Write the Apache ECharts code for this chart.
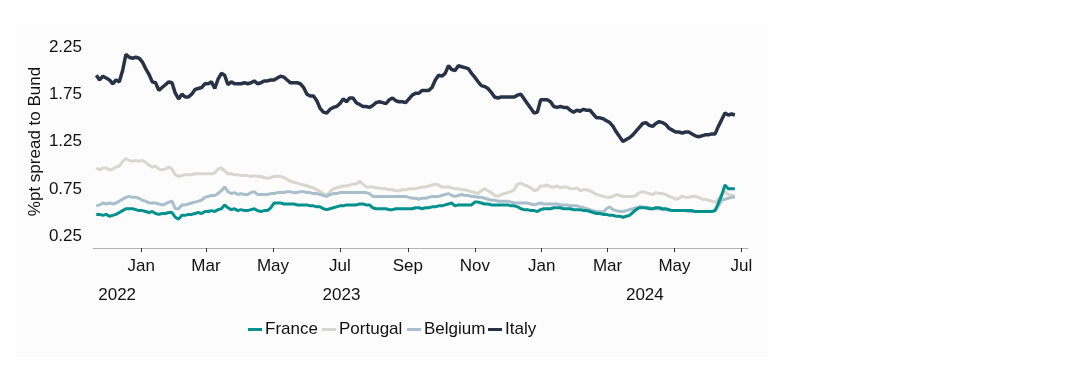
<!DOCTYPE html>
<html>
<head>
<meta charset="utf-8">
<script src="https://cdn.jsdelivr.net/npm/echarts@6/dist/echarts.min.js"></script>
<style>
html,body{margin:0;padding:0;background:#fff;}
#chart{width:1088px;height:380px;}
</style>
</head>
<body>
<div id="chart"></div>
<script>
// ---- Data (spread to Bund, %pt), sampled every 3 days from 2022-11-21 ----
const startDate = '2022-11-21';
const stepDays = 3;

const france = [
0.48,0.48,0.47,0.48,0.46,0.47,0.48,0.50,0.52,0.54,
0.54,0.54,0.53,0.52,0.52,0.51,0.50,0.51,0.49,0.48,
0.49,0.49,0.50,0.50,0.45,0.43,0.47,0.47,0.48,0.48,
0.49,0.50,0.49,0.51,0.51,0.52,0.51,0.53,0.54,0.58,
0.55,0.53,0.54,0.52,0.53,0.52,0.52,0.53,0.54,0.52,
0.51,0.52,0.52,0.55,0.60,0.60,0.60,0.59,0.59,0.59,
0.59,0.58,0.58,0.58,0.58,0.57,0.57,0.56,0.56,0.54,
0.53,0.54,0.55,0.56,0.57,0.57,0.58,0.58,0.58,0.58,
0.59,0.59,0.58,0.58,0.55,0.54,0.54,0.54,0.54,0.53,
0.53,0.54,0.54,0.54,0.54,0.54,0.54,0.55,0.55,0.54,
0.55,0.55,0.56,0.56,0.57,0.57,0.58,0.59,0.60,0.57,
0.58,0.58,0.58,0.58,0.58,0.61,0.61,0.60,0.59,0.59,
0.58,0.58,0.58,0.58,0.58,0.58,0.57,0.57,0.56,0.54,
0.53,0.53,0.52,0.52,0.51,0.53,0.54,0.54,0.54,0.55,
0.55,0.55,0.54,0.54,0.54,0.53,0.53,0.53,0.52,0.52,
0.51,0.50,0.49,0.49,0.48,0.48,0.47,0.47,0.46,0.46,
0.45,0.46,0.47,0.50,0.53,0.55,0.55,0.55,0.54,0.54,
0.55,0.55,0.54,0.54,0.53,0.52,0.52,0.52,0.52,0.52,
0.52,0.52,0.51,0.51,0.51,0.51,0.51,0.51,0.52,0.60,
0.68,0.79,0.75,0.75,0.75
];

const portugal = [
0.97,0.95,0.97,0.97,0.95,0.96,0.98,0.99,1.04,1.07,
1.05,1.04,1.05,1.04,1.05,1.03,1.00,0.98,0.99,0.96,
0.95,0.96,0.98,0.96,0.90,0.88,0.89,0.90,0.90,0.90,
0.91,0.91,0.91,0.91,0.91,0.91,0.92,0.96,0.97,0.94,
0.91,0.91,0.90,0.90,0.89,0.89,0.89,0.88,0.89,0.88,
0.88,0.87,0.86,0.87,0.88,0.88,0.88,0.87,0.85,0.83,
0.82,0.81,0.80,0.79,0.78,0.77,0.76,0.74,0.72,0.70,
0.68,0.72,0.75,0.76,0.77,0.78,0.78,0.79,0.80,0.80,
0.83,0.80,0.77,0.77,0.77,0.76,0.76,0.75,0.75,0.74,
0.74,0.73,0.73,0.74,0.74,0.75,0.75,0.75,0.76,0.77,
0.77,0.78,0.79,0.80,0.79,0.77,0.77,0.77,0.76,0.75,
0.75,0.74,0.74,0.73,0.72,0.71,0.70,0.73,0.75,0.73,
0.71,0.68,0.67,0.69,0.70,0.71,0.72,0.74,0.80,0.81,
0.79,0.78,0.76,0.73,0.74,0.78,0.78,0.79,0.77,0.77,
0.78,0.76,0.77,0.77,0.75,0.75,0.76,0.73,0.74,0.74,
0.73,0.71,0.69,0.68,0.67,0.66,0.66,0.67,0.69,0.68,
0.67,0.67,0.67,0.67,0.68,0.71,0.72,0.71,0.70,0.69,
0.71,0.70,0.70,0.69,0.67,0.66,0.64,0.65,0.67,0.66,
0.66,0.67,0.67,0.66,0.64,0.64,0.63,0.62,0.61,0.64,
0.70,0.72,0.69,0.68,0.68
];

const belgium = [
0.57,0.58,0.60,0.59,0.60,0.59,0.60,0.62,0.64,0.66,
0.67,0.66,0.66,0.65,0.63,0.62,0.60,0.60,0.60,0.59,
0.58,0.59,0.61,0.62,0.54,0.54,0.58,0.58,0.59,0.60,
0.61,0.62,0.63,0.66,0.67,0.68,0.68,0.70,0.73,0.77,
0.72,0.70,0.71,0.69,0.70,0.69,0.69,0.71,0.72,0.69,
0.69,0.69,0.69,0.70,0.70,0.71,0.71,0.71,0.72,0.72,
0.71,0.71,0.72,0.72,0.71,0.71,0.70,0.70,0.69,0.68,
0.67,0.69,0.70,0.70,0.71,0.71,0.71,0.71,0.71,0.71,
0.71,0.71,0.71,0.70,0.67,0.67,0.67,0.67,0.67,0.67,
0.67,0.67,0.67,0.67,0.67,0.66,0.65,0.65,0.64,0.65,
0.65,0.66,0.67,0.67,0.67,0.68,0.69,0.70,0.68,0.67,
0.68,0.69,0.68,0.68,0.67,0.67,0.66,0.66,0.65,0.64,
0.63,0.63,0.62,0.62,0.62,0.62,0.61,0.60,0.60,0.60,
0.60,0.60,0.59,0.58,0.59,0.60,0.59,0.59,0.59,0.59,
0.59,0.58,0.58,0.58,0.57,0.57,0.57,0.56,0.55,0.54,
0.53,0.52,0.51,0.51,0.50,0.54,0.56,0.53,0.52,0.51,
0.51,0.52,0.53,0.54,0.55,0.56,0.56,0.55,0.55,0.54,
0.54,0.54,0.53,0.53,0.52,0.52,0.52,0.52,0.52,0.52,
0.51,0.51,0.51,0.51,0.51,0.51,0.51,0.51,0.52,0.57,
0.63,0.64,0.65,0.66,0.66
];

const italy = [
1.95,1.90,1.94,1.92,1.90,1.86,1.90,1.88,2.00,2.17,
2.14,2.13,2.14,2.13,2.09,2.02,1.96,1.88,1.87,1.79,
1.82,1.85,1.88,1.87,1.76,1.70,1.75,1.72,1.72,1.75,
1.80,1.81,1.82,1.86,1.86,1.88,1.81,1.91,1.97,1.95,
1.85,1.88,1.86,1.86,1.86,1.87,1.86,1.87,1.89,1.86,
1.87,1.89,1.89,1.90,1.90,1.92,1.94,1.93,1.90,1.87,
1.87,1.87,1.86,1.82,1.75,1.73,1.73,1.68,1.60,1.56,
1.55,1.59,1.61,1.62,1.65,1.70,1.67,1.71,1.71,1.66,
1.64,1.62,1.62,1.61,1.63,1.66,1.67,1.66,1.65,1.69,
1.71,1.68,1.67,1.67,1.66,1.70,1.74,1.76,1.76,1.79,
1.79,1.79,1.82,1.90,1.95,1.94,1.97,2.05,2.01,2.00,
2.05,2.04,2.03,2.02,1.97,1.93,1.88,1.84,1.83,1.81,
1.77,1.72,1.71,1.72,1.72,1.72,1.72,1.72,1.74,1.75,
1.70,1.65,1.60,1.55,1.56,1.69,1.69,1.69,1.67,1.62,
1.61,1.62,1.61,1.61,1.58,1.56,1.58,1.57,1.59,1.58,
1.58,1.54,1.50,1.50,1.49,1.47,1.45,1.41,1.35,1.30,
1.25,1.27,1.29,1.32,1.36,1.40,1.44,1.45,1.42,1.41,
1.44,1.46,1.45,1.43,1.39,1.37,1.35,1.35,1.34,1.35,
1.35,1.33,1.31,1.30,1.31,1.32,1.32,1.33,1.33,1.41,
1.48,1.55,1.53,1.54,1.53
];

const seriesNames = ['France', 'Portugal', 'Belgium', 'Italy'];
const monthTicks = ['2023-01-01','2023-03-01','2023-05-01','2023-07-01','2023-09-01','2023-11-01',
                    '2024-01-01','2024-03-01','2024-05-01','2024-07-01'];
const monthNames = ['Jan','Feb','Mar','Apr','May','Jun','Jul','Aug','Sep','Oct','Nov','Dec'];
const yearLabels = ['2022', '2023', '2024'];
const axisStart = '2022-11-18';
const axisEnd = '2024-07-07';
const yTickLabels = ['0.25', '0.75', '1.25', '1.75', '2.25'];

// ---- Build ----
const DAY = 86400000;
const t = s => Date.parse(s + 'T00:00:00Z');
const t0 = t(startDate);
const dates = italy.map((_, i) => t0 + i * stepDays * DAY);
const pair = arr => arr.map((v, i) => [dates[i], v]);

const xMin = t(axisStart), xMax = t(axisEnd);
const yearBounds = [xMin, t('2023-01-01'), t('2024-01-01'), xMax];
const yearPos = yearLabels.map((_, i) => (yearBounds[i] + yearBounds[i + 1]) / 2);
const monthPos = monthTicks.map(t);

const colors = { France: '#00918e', Portugal: '#d8d6ce', Belgium: '#a8bfcb', Italy: '#283246' };
const widths = { France: 3, Portugal: 3, Belgium: 3, Italy: 3.5 };
const dataMap = { France: france, Portugal: portugal, Belgium: belgium, Italy: italy };
const FONT = '"Liberation Sans", Arial, sans-serif';
const legendLeft = [248, 322, 407, 488];

const chart = echarts.init(document.getElementById('chart'), null, { renderer: 'canvas' });
chart.setOption({
  animation: false,
  backgroundColor: '#ffffff',
  textStyle: { fontFamily: FONT },
  graphic: [{
    type: 'rect', left: 16, top: 24, z: -10, silent: true,
    shape: { width: 752, height: 333 },
    style: { fill: '#fcfcfc' }
  }],
  grid: { left: 93, right: 340, top: 35, bottom: 132, containLabel: false },
  legend: seriesNames.map((n, i) => ({
    data: [n],
    left: legendLeft[i], top: 321, padding: 0,
    icon: 'rect', itemWidth: 14, itemHeight: 3,
    textStyle: { fontSize: 17, color: '#111', fontFamily: FONT, padding: [0, 0, 0, -2] }
  })),
  xAxis: [{
    type: 'value', min: xMin, max: xMax,
    axisLine: { show: true, lineStyle: { color: '#b4b4b4', width: 1 } },
    axisTick: { show: true, length: 4, lineStyle: { color: '#333', width: 1 }, customValues: monthPos },
    axisLabel: {
      customValues: monthPos, margin: 10, fontSize: 17, color: '#111', fontFamily: FONT,
      hideOverlap: false, showMinLabel: true, showMaxLabel: true,
      formatter: v => monthNames[new Date(v).getUTCMonth()]
    },
    splitLine: { show: false }
  }, {
    type: 'value', min: xMin, max: xMax, position: 'bottom', offset: 29,
    axisLine: { show: false }, axisTick: { show: false }, splitLine: { show: false },
    axisLabel: {
      customValues: yearPos, margin: 10, fontSize: 17, color: '#111', fontFamily: FONT,
      hideOverlap: false, showMinLabel: true, showMaxLabel: true,
      formatter: v => String(new Date(v).getUTCFullYear())
    }
  }],
  yAxis: {
    type: 'value', min: 0.125, max: 2.375, interval: 0.125,
    name: '%pt spread to Bund', nameLocation: 'middle', nameGap: 49, nameRotate: 90,
    nameMoveOverlap: false,
    nameTextStyle: { fontSize: 17, color: '#111', fontFamily: FONT },
    axisLine: { show: false }, axisTick: { show: false }, splitLine: { show: false },
    axisLabel: {
      margin: 11, fontSize: 17, color: '#111', fontFamily: FONT,
      formatter: v => { const s = v.toFixed(2); return yTickLabels.includes(s) ? s : ''; }
    }
  },
  series: seriesNames.map(n => ({
    name: n, type: 'line', xAxisIndex: 0, data: pair(dataMap[n]),
    showSymbol: false, symbol: 'none',
    lineStyle: { width: widths[n], color: colors[n] }, itemStyle: { color: colors[n] },
    z: n === 'France' ? 4 : 2
  }))
});
</script>
</body>
</html>
